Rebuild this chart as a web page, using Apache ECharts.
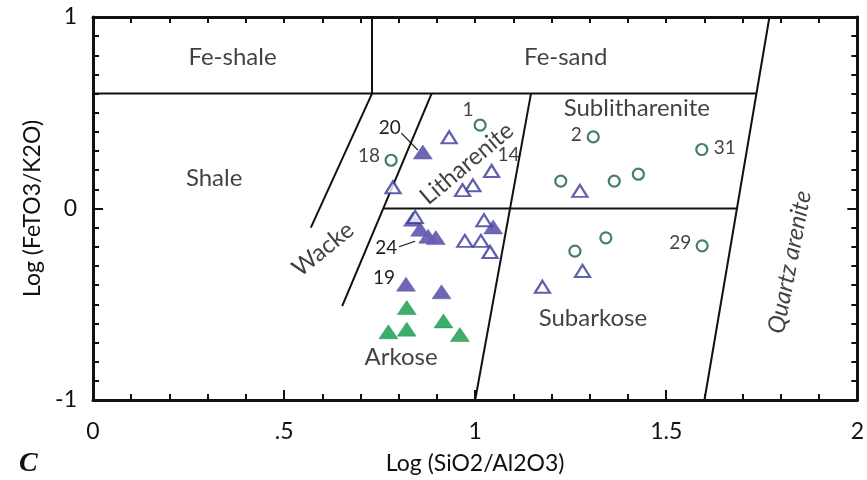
<!DOCTYPE html>
<html>
<head>
<meta charset="utf-8">
<script src="https://cdn.jsdelivr.net/npm/echarts@6/dist/echarts.min.js"></script>
<style>
html,body{margin:0;padding:0;background:#fff;}
#main{width:867px;height:480px;}
</style>
</head>
<body>
<div id="main"></div>
<script>
// sample groups, [Log(SiO2/Al2O3), Log(FeTO3/K2O)]
var circles = [[1.013,0.435],[0.780,0.252],[1.309,0.374],[1.593,0.308],[1.224,0.143],
	[1.364,0.143],[1.427,0.179],[1.342,-0.153],[1.261,-0.223],[1.594,-0.195]];
var circleNames = ['1','18','2','31','','','','','','29'];

var openTri = [[0.932,0.372],[0.785,0.111],[1.043,0.196],[0.994,0.121],[0.967,0.096],
	[0.843,-0.044],[1.023,-0.061],[0.973,-0.169],[1.015,-0.169],[1.039,-0.227],
	[1.274,0.092],[1.281,-0.326],[1.176,-0.409]];
var openTriNames = ['','','14','','','','','','','','','',''];

var purpleTri = [[0.863,0.295],[0.837,-0.056],[0.856,-0.108],[0.877,-0.145],[0.897,-0.152],
	[1.047,-0.096],[0.819,-0.395],[0.912,-0.435]];
var purpleTriNames = ['20','','','24','','','19',''];

var greenTri = [[0.821,-0.517],[0.917,-0.587],[0.821,-0.630],[0.773,-0.644],[0.960,-0.658]];

// classification boundaries
var boundaries = [
	[[0,0.6],[1.736,0.6]],
	[[0.73,0.6],[0.73,1]],
	[[0.76,0],[1.685,0]],
	[[0.73,0.6],[0.57,-0.1]],
	[[0.886,0.6],[0.652,-0.51]],
	[[1.146,0.6],[1.0,-1]],
	[[1.6,-1],[1.77,1]]
];
var leaders = [
	[[0.807,0.394],[0.850,0.305]],
	[[0.801,-0.200],[0.843,-0.171]]
];

var regionNames = ['Fe-shale','Fe-sand','Shale','Sublitharenite','Litharenite','Wacke','Subarkose','Arkose','Quartz arenite'];
var regionPos = [[0.365,0.790],[1.237,0.790],[0.317,0.158],[1.423,0.523],[0.978,0.235],
	[0.602,-0.212],[1.308,-0.572],[0.806,-0.776],[1.823,-0.28]];

var xTicks = {0:'0',0.5:'.5',1:'1',1.5:'1.5',2:'2'};

// label offsets from the mark centre
var labelOffset = {'1':[-12,-15],'18':[-22,-4],'2':[-17,-2],'31':[23,-2],'29':[-22,-3],
	'20':[-33,-24],'24':[-42,12],'19':[-22,-6],'14':[17,-16]};
var regionRotate = {'Litharenite':40,'Wacke':39,'Quartz arenite':79};

var FONT = 'Lato';
var INK = '#111';

function withLabels(pts, names){
	return pts.map(function(p,i){
		var n = names[i];
		if(!n) return p;
		return {value:p, label:{show:true, formatter:n, position:'inside', offset:labelOffset[n],
			color:INK, fontSize:19, fontFamily:FONT}};
	});
}

var myChart = echarts.init(document.getElementById('main'));
var series = [];
boundaries.forEach(function(seg){
	series.push({type:'line', data:seg, symbol:'none', silent:true, z:1,
		lineStyle:{color:INK, width:2}});
});
leaders.forEach(function(seg){
	series.push({type:'line', data:seg, symbol:'none', silent:true, z:1,
		lineStyle:{color:INK, width:1.2}});
});
series.push({
	type:'scatter', data:regionPos.map(function(p,i){
		var n = regionNames[i];
		return {value:p, label:{show:true, formatter:n, rotate:regionRotate[n]||0,
			fontStyle:n==='Quartz arenite'?'italic':'normal'}};
	}),
	symbolSize:0, silent:true, z:2,
	label:{show:true, position:'inside', color:INK, fontSize:24, fontFamily:FONT}
});
series.push({type:'scatter', name:'green', data:greenTri, symbol:'triangle', symbolSize:[19,14], z:3,
	itemStyle:{color:'#0c9848', borderColor:'#0a8a40', borderWidth:0.5}});
series.push({type:'scatter', name:'purple', data:withLabels(purpleTri, purpleTriNames), symbol:'triangle', symbolSize:[19,14], z:3,
	itemStyle:{color:'#665fb1', borderColor:'#5a53a6', borderWidth:0.5, opacity:0.95}});
series.push({type:'scatter', name:'open', data:withLabels(openTri, openTriNames), symbol:'triangle', symbolSize:[15,12], z:4,
	itemStyle:{color:'#fff', borderColor:'#383a98', borderWidth:2.2}});
series.push({type:'scatter', name:'circle', data:withLabels(circles, circleNames), symbol:'circle', symbolSize:11, z:4,
	itemStyle:{color:'#fff', borderColor:'#17603f', borderWidth:2.2}});

var axisLine = {onZero:false, lineStyle:{color:INK, width:3}};
var tick = {inside:true, length:10, lineStyle:{color:INK, width:2}};
var minor = {show:true, length:6, lineStyle:{color:INK, width:2}};

option = {
	animation:false,
	backgroundColor:'#fff',
	grid:{left:93, right:9, top:17, bottom:80},
	xAxis:[{
		type:'value', min:0, max:2, interval:0.5, position:'bottom',
		axisLine:axisLine, splitLine:{show:false}, axisTick:tick,
		minorTick:Object.assign({splitNumber:5}, minor),
		axisLabel:{margin:20, color:INK, fontSize:23, fontFamily:FONT,
			formatter:function(v){ return xTicks[v]; }},
		name:'Log (SiO2/Al2O3)', nameLocation:'middle', nameGap:52,
		nameTextStyle:{color:INK, fontSize:23, fontFamily:FONT}
	},{
		type:'value', min:0, max:2, interval:0.5, position:'top',
		axisLine:axisLine, splitLine:{show:false},
		axisTick:{inside:true, length:6, lineStyle:{color:INK, width:2}},
		minorTick:Object.assign({splitNumber:5}, minor),
		axisLabel:{show:false}
	}],
	yAxis:[{
		type:'value', min:-1, max:1, interval:1, position:'left',
		axisLine:axisLine, splitLine:{show:false}, axisTick:tick,
		minorTick:Object.assign({splitNumber:10}, minor),
		axisLabel:{margin:16, color:INK, fontSize:23, fontFamily:FONT},
		name:'Log (FeTO3/K2O)', nameLocation:'middle', nameGap:46,
		nameTextStyle:{color:INK, fontSize:23, fontFamily:FONT}
	},{
		type:'value', min:-1, max:1, interval:1, position:'right',
		axisLine:axisLine, splitLine:{show:false}, axisTick:tick,
		minorTick:Object.assign({splitNumber:10}, minor),
		axisLabel:{show:false}
	}],
	graphic:[{
		type:'text', left:19, top:450,
		style:{text:'C', fill:'#111', font:'italic bold 28px "Liberation Serif", "DejaVu Serif", serif'}
	}],
	series:series
};
myChart.setOption(option);
</script>
</body>
</html>
